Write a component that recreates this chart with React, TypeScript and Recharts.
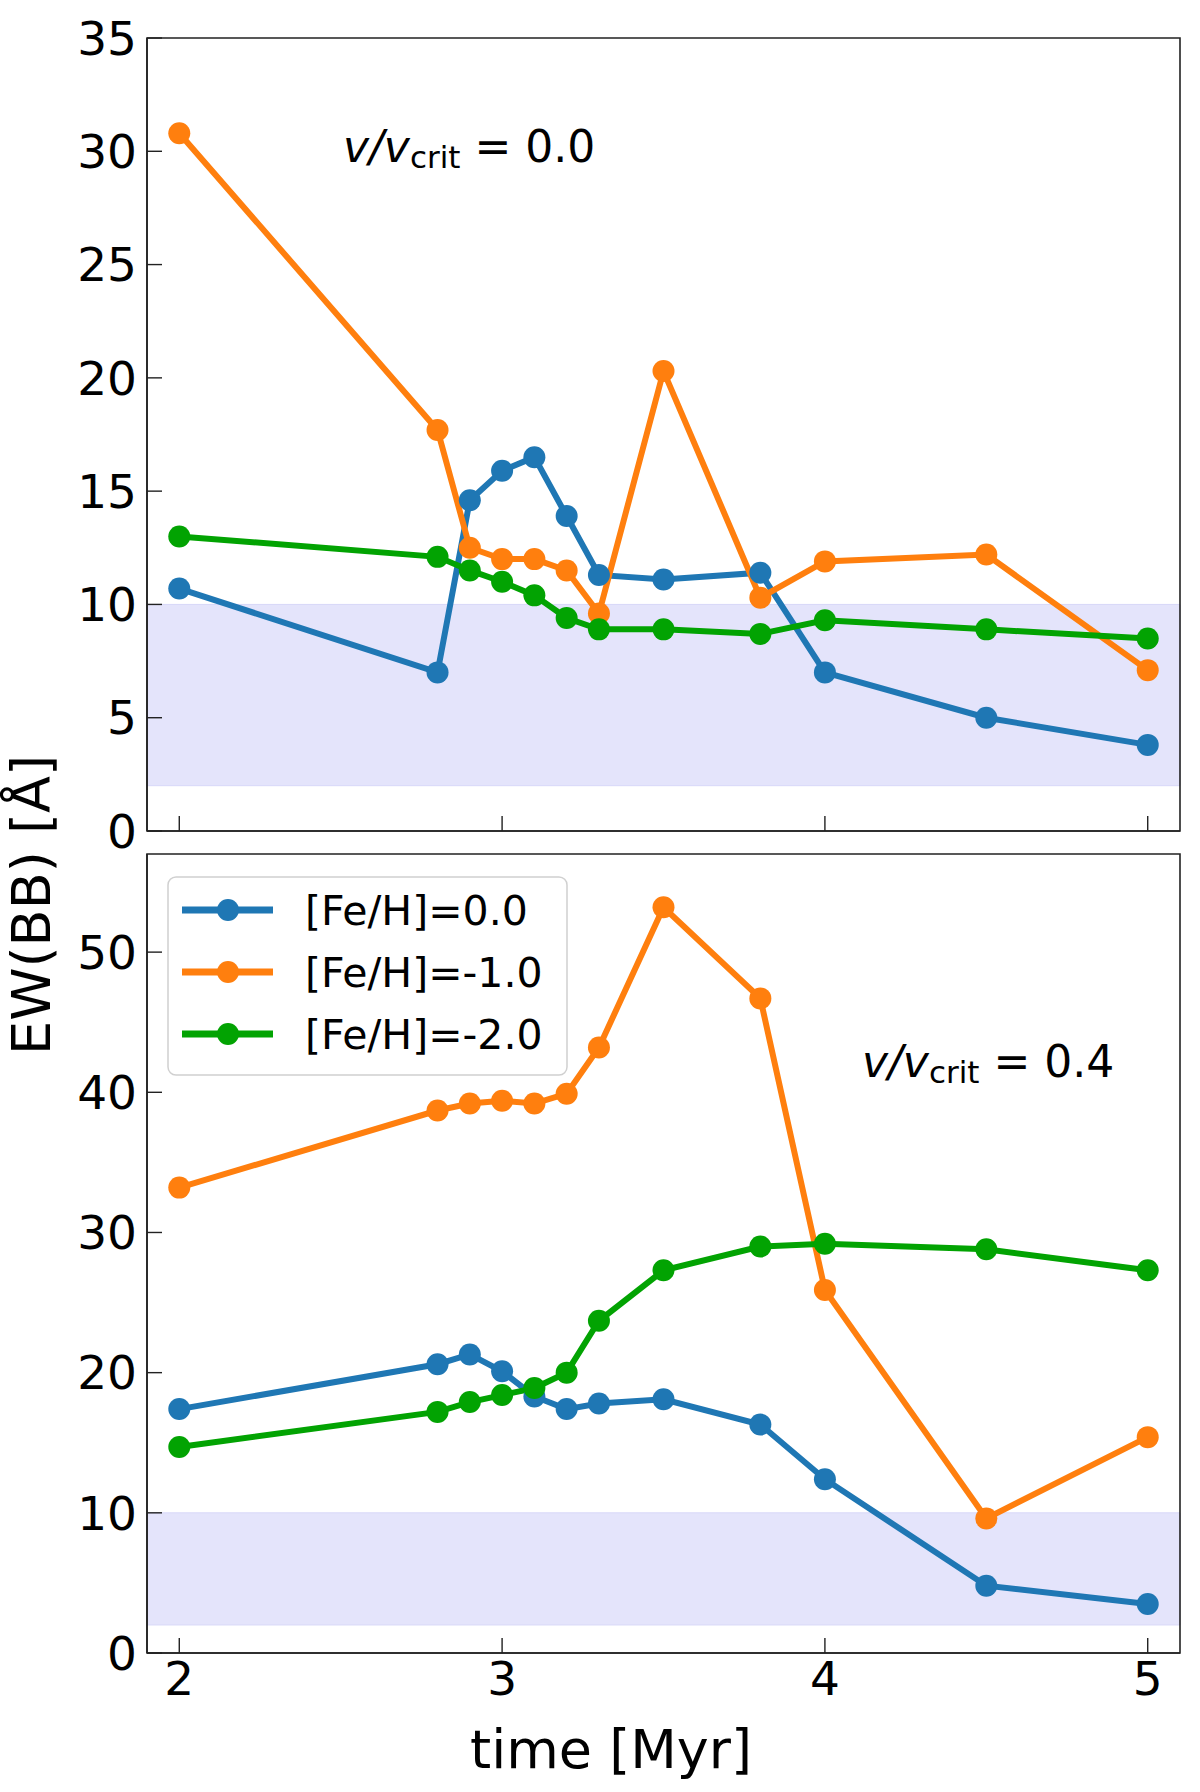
import React from 'react';
import {
  LineChart,
  Line,
  XAxis,
  YAxis,
  ReferenceArea,
} from 'recharts';

// time grid shared by every series (Myr)
const TIMES = [2.0, 2.8, 2.9, 3.0, 3.1, 3.2, 3.3, 3.5, 3.8, 4.0, 4.5, 5.0];

// v/vcrit = 0.0
const TOP_FEH0 = [10.7, 7.0, 14.6, 15.9, 16.5, 13.9, 11.3, 11.1, 11.4, 7.0, 5.0, 3.8];
const TOP_FEH1 = [30.8, 17.7, 12.5, 12.0, 12.0, 11.5, 9.6, 20.3, 10.3, 11.9, 12.2, 7.1];
const TOP_FEH2 = [13.0, 12.1, 11.5, 11.0, 10.4, 9.4, 8.9, 8.9, 8.7, 9.3, 8.9, 8.5];

// v/vcrit = 0.4
const BOT_FEH0 = [17.4, 20.6, 21.3, 20.1, 18.3, 17.4, 17.8, 18.1, 16.3, 12.4, 4.8, 3.5];
const BOT_FEH1 = [33.2, 38.7, 39.2, 39.4, 39.2, 39.9, 43.2, 53.2, 46.7, 25.9, 9.6, 15.4];
const BOT_FEH2 = [14.7, 17.2, 17.9, 18.4, 18.9, 20.0, 23.7, 27.3, 29.0, 29.2, 28.8, 27.3];

const X_MIN = 1.9;
const X_MAX = 5.1;
const X_TICKS = [2, 3, 4, 5];
const TOP_Y_TICKS = [0, 5, 10, 15, 20, 25, 30, 35];
const BOT_Y_TICKS = [0, 10, 20, 30, 40, 50];

// observed range shaded in both panels
const BAND_LOW = 2;
const BAND_HIGH = 10;

const SERIES = [
  { key: 'feh0', name: '[Fe/H]=0.0', color: '#1f77b4' },
  { key: 'feh1', name: '[Fe/H]=-1.0', color: '#ff7f0e' },
  { key: 'feh2', name: '[Fe/H]=-2.0', color: '#02a302' },
];

const FONT = '"DejaVu Sans", sans-serif';
const AXIS_COLOR = '#222';

const buildRows = (a: number[], b: number[], c: number[]) =>
  TIMES.map((t, i) => ({ t, feh0: a[i], feh1: b[i], feh2: c[i] }));

const topData = buildRows(TOP_FEH0, TOP_FEH1, TOP_FEH2);
const botData = buildRows(BOT_FEH0, BOT_FEH1, BOT_FEH2);

interface PanelProps {
  data: Array<{ t: number; [key: string]: number }>;
  yMax: number;
  yTicks: number[];
  height: number;
  xAxisHeight: number;
  showXLabels: boolean;
}

const Panel: React.FC<PanelProps> = ({ data, yMax, yTicks, height, xAxisHeight, showXLabels }) => (
  <LineChart
    width={1200}
    height={height}
    data={data}
    margin={{ top: 38, right: 20, left: 0, bottom: 0 }}
  >
    <ReferenceArea
      y1={BAND_LOW}
      y2={BAND_HIGH}
      fill="#e4e4fb"
      fillOpacity={1}
      stroke="#d8d8f8"
      strokeWidth={1}
    />
    {/* box around the axes (top and right spines) */}
    <ReferenceArea
      x1={X_MIN}
      x2={X_MAX}
      y1={0}
      y2={yMax}
      fill="none"
      stroke={AXIS_COLOR}
      strokeWidth={1.6}
    />
    <XAxis
      dataKey="t"
      type="number"
      domain={[X_MIN, X_MAX]}
      ticks={X_TICKS}
      interval={0}
      allowDataOverflow
      height={xAxisHeight}
      tickSize={-15}
      tickMargin={24}
      tickFormatter={(v) => (showXLabels ? String(v) : '')}
      axisLine={{ stroke: AXIS_COLOR, strokeWidth: 1.6 }}
      tickLine={{ stroke: AXIS_COLOR, strokeWidth: 1.4 }}
      tick={{ fill: '#000', fontSize: 47, fontFamily: FONT }}
    />
    <YAxis
      type="number"
      domain={[0, yMax]}
      ticks={yTicks}
      interval={0}
      allowDataOverflow
      width={147}
      tickSize={-15}
      tickMargin={25}
      axisLine={{ stroke: AXIS_COLOR, strokeWidth: 1.6 }}
      tickLine={{ stroke: AXIS_COLOR, strokeWidth: 1.4 }}
      tick={{ fill: '#000', fontSize: 47, fontFamily: FONT }}
    />
    {SERIES.map((s) => (
      <Line
        key={s.key}
        type="linear"
        dataKey={s.key}
        name={s.name}
        stroke={s.color}
        strokeWidth={6}
        dot={{ r: 11, fill: s.color, stroke: 'none' }}
        activeDot={false}
        isAnimationActive={false}
      />
    ))}
  </LineChart>
);

const VelocityNote: React.FC<{ x: number; y: number; value: string }> = ({ x, y, value }) => (
  <text x={x} y={y} fontSize={44} fontFamily={FONT} fill="#000">
    <tspan fontStyle="italic">v/v</tspan>
    <tspan fontSize={31} dy={6}>crit</tspan>
    <tspan dy={-6}>{' = ' + value}</tspan>
  </text>
);

export default function App() {
  return (
    <div
      style={{
        position: 'absolute',
        left: 0,
        top: 0,
        width: 1200,
        height: 1792,
        background: '#fff',
        fontFamily: FONT,
      }}
    >
      <div style={{ position: 'absolute', left: 0, top: 816 }}>
        <Panel data={botData} yMax={57} yTicks={BOT_Y_TICKS} height={976} xAxisHeight={139} showXLabels />
      </div>
      {/* upper panel is stacked above so its "0" label is never hidden */}
      <div style={{ position: 'absolute', left: 0, top: 0, pointerEvents: 'none' }}>
        <Panel data={topData} yMax={35} yTicks={TOP_Y_TICKS} height={881} xAxisHeight={50} showXLabels={false} />
      </div>

      <svg
        width={1200}
        height={1792}
        style={{ position: 'absolute', left: 0, top: 0, pointerEvents: 'none' }}
      >
        <VelocityNote x={343} y={162} value="0.0" />
        <VelocityNote x={862} y={1077} value="0.4" />

        <text
          transform="translate(50,905) rotate(-90)"
          textAnchor="middle"
          fontSize={54}
          fontFamily={FONT}
          fill="#000"
        >
          EW(BB) [Å]
        </text>
        <text x={611} y={1768} textAnchor="middle" fontSize={54} fontFamily={FONT} fill="#000">
          time [Myr]
        </text>

        {/* legend of the lower panel */}
        <rect x={168} y={877} width={399} height={198} rx={8} fill="#fff" fillOpacity={0.8} stroke="#d0d0d0" strokeWidth={1.5} />
        {SERIES.map((s, i) => {
          const cy = 910 + i * 62;
          return (
            <g key={s.key}>
              <line x1={182} x2={273} y1={cy} y2={cy} stroke={s.color} strokeWidth={7} />
              <circle cx={228} cy={cy} r={11} fill={s.color} />
              <text x={305} y={cy} dy="0.36em" fontSize={41} fontFamily={FONT} fill="#000">
                {s.name}
              </text>
            </g>
          );
        })}
      </svg>
    </div>
  );
}
